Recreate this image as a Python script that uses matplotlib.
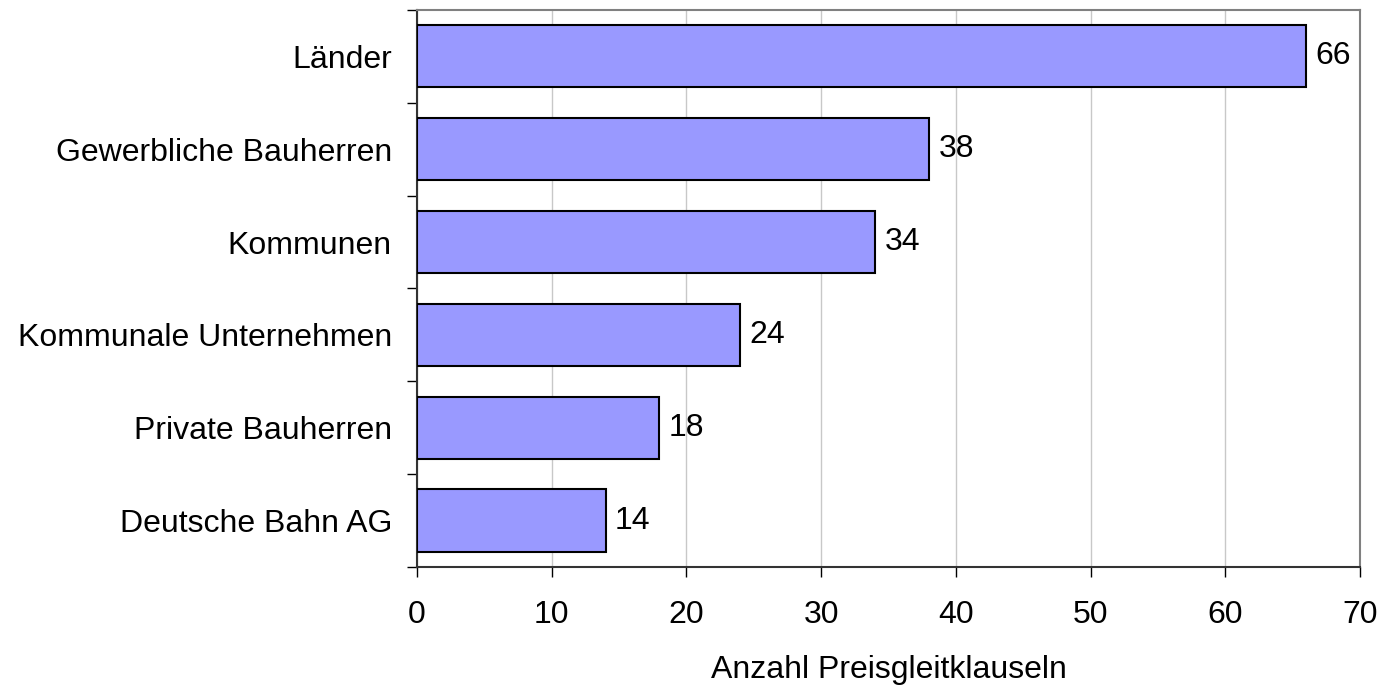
import matplotlib.pyplot as plt
import numpy as np

# === DATA ===
categories = ['Länder', 'Gewerbliche Bauherren', 'Kommunen',
              'Kommunale Unternehmen', 'Private Bauherren', 'Deutsche Bahn AG']
values = [66, 38, 34, 24, 18, 14]
x_label = 'Anzahl Preisgleitklauseln'

plt.rcParams['font.family'] = ['Liberation Sans', 'DejaVu Sans']
FS = 23

fig = plt.figure(figsize=(13.83, 6.88), dpi=100)
ax = fig.add_axes([0.3015, 0.1759, 0.6819, 0.8096])

ypos = np.arange(len(categories))[::-1]
ax.barh(ypos, values, height=0.67, color='#9999FF', edgecolor='black', linewidth=1.5, zorder=3)

for y, v in zip(ypos, values):
    ax.text(v + 0.7, y, str(v), va='center', ha='left', fontsize=FS, zorder=4)

ax.set_xlim(0, 70)
ax.set_ylim(-0.5, len(categories) - 0.5)
ax.set_xticks(range(0, 71, 10))
ax.tick_params(axis='x', labelsize=FS, length=7.5, width=1, direction='out', pad=16)
ax.grid(axis='x', color='#c8c8c8', linewidth=1, zorder=0)

# category boundaries as major ticks, labels on minor ticks
ax.set_yticks(np.arange(-0.5, len(categories), 1.0))
ax.set_yticklabels([])
ax.set_yticks(ypos, minor=True)
ax.set_yticklabels(categories, minor=True)
ax.tick_params(axis='y', which='major', length=7.5, width=1, direction='out')
ax.tick_params(axis='y', which='minor', length=0, labelsize=FS, pad=18)

ax.spines['top'].set_color('#808080')
ax.spines['right'].set_color('#808080')
ax.spines['left'].set_color('#333333')
ax.spines['bottom'].set_color('#333333')
for s in ax.spines.values():
    s.set_linewidth(1.5)

ax.set_xlabel(x_label, fontsize=FS, labelpad=18)

plt.savefig('out.png', dpi=100)
